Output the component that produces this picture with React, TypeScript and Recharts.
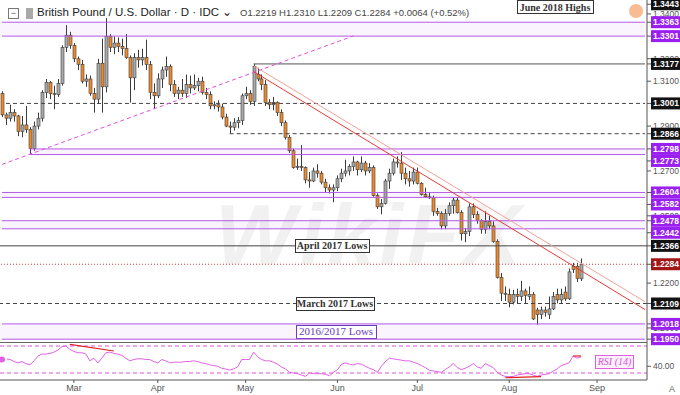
import {
  ComposedChart,
  Bar,
  Line,
  XAxis,
  YAxis,
  ReferenceLine,
  ReferenceArea,
} from "recharts";

const SANS = "'Liberation Sans', Arial, sans-serif";
const SERIF = "'Liberation Serif', 'Times New Roman', serif";

// trading days (Mon-Fri) from 5 Feb 2019; the last ones are empty room on the right
function weekdays(start: string, count: number) {
  const out: string[] = [];
  const d = new Date(start + "T00:00:00Z");
  while (out.length < count) {
    const wd = d.getUTCDay();
    if (wd !== 0 && wd !== 6) out.push(d.toISOString().slice(0, 10));
    d.setUTCDate(d.getUTCDate() + 1);
  }
  return out;
}
const dates = weekdays("2019-02-05", 162);

const monthTicks = ["2019-03-01", "2019-04-01", "2019-05-01", "2019-06-03", "2019-07-01", "2019-08-01", "2019-09-02"];
const monthLabels = ["Mar", "Apr", "May", "Jun", "Jul", "Aug", "Sep"];

// GBP/USD daily candles, Feb 5 - Aug 27
const opens = [
  1.3045, 1.2950, 1.2935, 1.2960, 1.2945, 1.2875, 1.2905, 1.2885, 1.2800, 1.2900,
  1.2935, 1.3050, 1.3095, 1.3045, 1.3040, 1.3090, 1.3250, 1.3305,
  1.3260, 1.3200, 1.3175, 1.3100, 1.3110, 1.3045, 1.3020, 1.3180, 1.3075, 1.3300,
  1.3250, 1.3270, 1.3255, 1.3245, 1.3205, 1.3115, 1.3205, 1.3195, 1.3205, 1.3175, 1.3050,
  1.3035, 1.3110, 1.3150, 1.3165, 1.3085, 1.3045, 1.3060, 1.3045, 1.3085, 1.3070, 1.3080,
  1.3100, 1.3050, 1.3040, 1.2990, 1.2995, 1.2985, 1.2940, 1.2900, 1.2895, 1.2915, 1.2925,
  1.3035, 1.3045, 1.3010, 1.3130, 1.3110, 1.3085, 1.3005, 1.2995, 1.3005, 1.2960, 1.2915,
  1.2850, 1.2790, 1.2715, 1.2720, 1.2715, 1.2660, 1.2655, 1.2700, 1.2690, 1.2650, 1.2625, 1.2615,
  1.2625, 1.2665, 1.2690, 1.2700, 1.2720, 1.2740, 1.2705, 1.2735, 1.2700, 1.2715,
  1.2590, 1.2540, 1.2555, 1.2655, 1.2690, 1.2740, 1.2735, 1.2690, 1.2665, 1.2655,
  1.2695, 1.2645, 1.2595, 1.2585, 1.2580, 1.2520, 1.2510, 1.2455, 1.2510, 1.2545, 1.2570,
  1.2515, 1.2420, 1.2430, 1.2540, 1.2505, 1.2480, 1.2440, 1.2475, 1.2455, 1.2385, 1.2225, 1.2155,
  1.2150, 1.2115, 1.2150, 1.2140, 1.2165, 1.2140, 1.2150, 1.2080, 1.2060, 1.2080,
  1.2060, 1.2085, 1.2150, 1.2125, 1.2160, 1.2130, 1.2275, 1.2275, 1.2219,
];
const highs = [
  1.3055, 1.2960, 1.2995, 1.2975, 1.2950, 1.2945, 1.2990, 1.2895, 1.2920, 1.2960,
  1.3060, 1.3110, 1.3100, 1.3080, 1.3110, 1.3260, 1.3350, 1.3320,
  1.3270, 1.3210, 1.3195, 1.3130, 1.3125, 1.3070, 1.3200, 1.3290, 1.3381, 1.3310,
  1.3300, 1.3295, 1.3290, 1.3310, 1.3215, 1.3225, 1.3240, 1.3245, 1.3285, 1.3190, 1.3090,
  1.3135, 1.3165, 1.3210, 1.3175, 1.3105, 1.3075, 1.3110, 1.3130, 1.3125, 1.3130, 1.3115,
  1.3120, 1.3070, 1.3055, 1.3010, 1.3015, 1.3000, 1.2955, 1.2920, 1.2935, 1.2940, 1.3045,
  1.3075, 1.3060, 1.3177, 1.3160, 1.3130, 1.3105, 1.3020, 1.3030, 1.3010, 1.2975, 1.2925,
  1.2860, 1.2800, 1.2755, 1.2815, 1.2720, 1.2695, 1.2715, 1.2730, 1.2700, 1.2665, 1.2640, 1.2640,
  1.2680, 1.2710, 1.2750, 1.2730, 1.2765, 1.2745, 1.2765, 1.2745, 1.2735, 1.2725,
  1.2600, 1.2575, 1.2665, 1.2710, 1.2755, 1.2765, 1.2784, 1.2715, 1.2700, 1.2715,
  1.2715, 1.2650, 1.2625, 1.2605, 1.2590, 1.2535, 1.2520, 1.2530, 1.2560, 1.2580, 1.2580,
  1.2525, 1.2445, 1.2555, 1.2555, 1.2520, 1.2485, 1.2520, 1.2500, 1.2475, 1.2395, 1.2245, 1.2185,
  1.2175, 1.2170, 1.2175, 1.2210, 1.2175, 1.2185, 1.2160, 1.2090, 1.2095, 1.2095,
  1.2140, 1.2160, 1.2175, 1.2175, 1.2185, 1.2265, 1.2290, 1.2290, 1.2310,
];
const lows = [
  1.2940, 1.2905, 1.2920, 1.2920, 1.2855, 1.2850, 1.2870, 1.2773, 1.2790, 1.2885,
  1.2920, 1.3025, 1.3020, 1.2975, 1.3030, 1.3080, 1.3230, 1.3245,
  1.3185, 1.3150, 1.3090, 1.3075, 1.3035, 1.2960, 1.3000, 1.2960, 1.3050, 1.3230,
  1.3220, 1.3230, 1.3215, 1.3200, 1.3005, 1.3060, 1.3160, 1.3170, 1.3150, 1.3020, 1.2977,
  1.3025, 1.3070, 1.3120, 1.3055, 1.3030, 1.3020, 1.3030, 1.3025, 1.3045, 1.3060, 1.3055,
  1.3040, 1.3020, 1.2975, 1.2975, 1.2965, 1.2930, 1.2895, 1.2866, 1.2880, 1.2890, 1.2905,
  1.3020, 1.2995, 1.2990, 1.3100, 1.3060, 1.2990, 1.2975, 1.2970, 1.2945, 1.2900, 1.2840,
  1.2780, 1.2710, 1.2705, 1.2700, 1.2645, 1.2625, 1.2650, 1.2670, 1.2640, 1.2605, 1.2600, 1.2560,
  1.2610, 1.2650, 1.2675, 1.2680, 1.2700, 1.2680, 1.2695, 1.2680, 1.2690, 1.2585,
  1.2530, 1.2506, 1.2550, 1.2620, 1.2680, 1.2715, 1.2660, 1.2640, 1.2630, 1.2640,
  1.2640, 1.2590, 1.2580, 1.2575, 1.2500, 1.2500, 1.2440, 1.2440, 1.2500, 1.2510, 1.2510,
  1.2390, 1.2382, 1.2410, 1.2490, 1.2465, 1.2420, 1.2420, 1.2440, 1.2380, 1.2220, 1.2120, 1.2120,
  1.2092, 1.2105, 1.2110, 1.2120, 1.2110, 1.2125, 1.2035, 1.2015, 1.2040, 1.2050,
  1.2040, 1.2080, 1.2110, 1.2110, 1.2120, 1.2125, 1.2245, 1.2205, 1.2209,
];
const closes = [
  1.2950, 1.2935, 1.2960, 1.2945, 1.2875, 1.2905, 1.2885, 1.2800, 1.2900, 1.2935,
  1.3050, 1.3095, 1.3045, 1.3040, 1.3090, 1.3250, 1.3305, 1.3260,
  1.3200, 1.3175, 1.3100, 1.3110, 1.3045, 1.3020, 1.3180, 1.3075, 1.3300, 1.3250,
  1.3270, 1.3255, 1.3245, 1.3205, 1.3115, 1.3205, 1.3195, 1.3205, 1.3175, 1.3050, 1.3035,
  1.3110, 1.3150, 1.3165, 1.3085, 1.3045, 1.3060, 1.3045, 1.3085, 1.3070, 1.3080, 1.3100,
  1.3050, 1.3040, 1.2990, 1.2995, 1.2985, 1.2940, 1.2900, 1.2895, 1.2915, 1.2925, 1.3035,
  1.3045, 1.3010, 1.3165, 1.3110, 1.3085, 1.3005, 1.2995, 1.3005, 1.2960, 1.2915, 1.2850,
  1.2790, 1.2715, 1.2720, 1.2715, 1.2660, 1.2655, 1.2700, 1.2690, 1.2650, 1.2625, 1.2615, 1.2625,
  1.2665, 1.2690, 1.2700, 1.2720, 1.2740, 1.2705, 1.2735, 1.2700, 1.2715, 1.2590,
  1.2540, 1.2555, 1.2655, 1.2690, 1.2740, 1.2735, 1.2690, 1.2665, 1.2655, 1.2695,
  1.2645, 1.2595, 1.2585, 1.2580, 1.2520, 1.2510, 1.2455, 1.2510, 1.2545, 1.2570, 1.2515,
  1.2420, 1.2430, 1.2540, 1.2505, 1.2480, 1.2440, 1.2475, 1.2455, 1.2385, 1.2225, 1.2155, 1.2150,
  1.2115, 1.2150, 1.2140, 1.2165, 1.2145, 1.2150, 1.2040, 1.2060, 1.2080, 1.2070,
  1.2085, 1.2140, 1.2125, 1.2150, 1.2130, 1.2250, 1.2260, 1.2220, 1.2284,
];

// RSI (14)
const rsi = [
  50, 51, 50, 47, 45, 47, 44, 42, 48, 55,
  58, 58, 59, 61, 64, 69, 70, 65, 62, 60,
  60, 58, 48, 52, 45, 52, 60, 61, 59, 58,
  56, 52, 48, 50, 51, 51, 50, 50, 47, 45,
  50, 48, 45, 46, 46, 46, 47, 47, 48, 47,
  45, 44, 42, 41, 40, 37, 36, 34.5, 36, 39,
  50, 50, 50, 61, 54, 50, 48, 48, 46, 43,
  39, 36, 31, 30, 29, 27, 25, 30, 29, 29,
  29, 28, 26, 31, 35, 43, 45, 43, 42, 44,
  43, 40, 37, 35, 31, 40, 47, 52, 51, 50,
  49, 48, 48, 46, 44, 41, 38, 34, 33, 32,
  31, 35, 39, 44, 38, 35, 37, 40, 44, 39,
  37, 44, 41, 38, 31, 27, 25, 24.5, 25, 27,
  28, 29, 29, 27, 25, 27, 28, 29, 33, 36,
  41, 43, 45, 55, 52, 54,
];

// horizontal zones (low, high) and the bar index where each starts
const purpleBands = [
  [1.3301, 1.3363],
  [1.2773, 1.2798],
  [1.2582, 1.2604],
  [1.2442, 1.2478],
  [1.1950, 1.2018],
];
const bandStarts = [0, 7, 0, 0, 0];
const blackLevels = [1.3443, 1.3177, 1.3001, 1.2866, 1.2366, 1.2109];
const lastPrice = 1.2284;
// plain axis ticks that still peek out from behind the level tags
const plainTicks = [1.20, 1.22, 1.25, 1.27, 1.29, 1.31, 1.32, 1.34];

// drawn trendlines: [bar index, price]
const trendLines = [
  { from: [0, 1.2729], to: [88, 1.3302], stroke: "#e04fe0", dash: "4 3" },
  { from: [63, 1.3169], to: [161, 1.2117], stroke: "#f3a19b", dash: undefined },
  { from: [63, 1.3143], to: [161, 1.2082], stroke: "#e53935", dash: undefined },
];
const rsiLines = [
  { from: [17, 72.5], to: [28, 62.6] },
  { from: [126, 23], to: [135, 24.5] },
  { from: [143, 55.2], to: [145, 55.2] },
];

const rows = dates.map((date, i) => ({
  date,
  o: opens[i],
  h: highs[i],
  l: lows[i],
  c: closes[i],
  range: i < opens.length ? [lows[i], highs[i]] : null,
  rsi: rsi[i],
}));

const PURPLE = "#9b20f0";
const BAND_LINE = "#b35ae6";
const PLOT_RIGHT = 647;
const PRICE_DOMAIN = [1.1768, 1.3462];
const PLOT_H = 380;
const PX_PER_PRICE = PLOT_H / (PRICE_DOMAIN[1] - PRICE_DOMAIN[0]);
const TAG_H = 12;

// eslint-disable-next-line @typescript-eslint/no-explicit-any
const Candle = (props: any) => {
  const { x, y, width, height, payload } = props;
  if (!payload || payload.o == null) return null;
  const { o, h, l, c } = payload;
  const top = Math.min(y, y + height);
  const bottom = Math.max(y, y + height);
  const k = (bottom - top) / (h - l || 1);
  const py = (v: number) => top + (h - v) * k;
  const cx = Math.round(x + width / 2) + 0.5;
  const y1 = py(Math.max(o, c));
  const y2 = py(Math.min(o, c));
  return (
    <g>
      <line x1={cx} x2={cx} y1={top} y2={bottom} stroke="#3c3c3c" strokeWidth={1} />
      <rect
        x={cx - 1.5}
        y={y1}
        width={3}
        height={Math.max(1, y2 - y1)}
        fill={c >= o ? "#aaaaaa" : "#f0892a"}
        stroke="#3c3c3c"
        strokeWidth={0.6}
      />
    </g>
  );
};

// eslint-disable-next-line @typescript-eslint/no-explicit-any
const PriceTick = (props: any) => {
  const { y, payload } = props;
  const v = payload.value;
  const band = purpleBands.find((b) => b[0] === v || b[1] === v);
  const bg = band ? PURPLE : blackLevels.includes(v) ? "#121212" : v === lastPrice ? "#a31616" : null;
  const text = v.toFixed(4);
  if (!bg) {
    return (
      <g>
        <line x1={PLOT_RIGHT} x2={PLOT_RIGHT + 4} y1={y} y2={y} stroke="#555" />
        <text x={PLOT_RIGHT + 6} y={y + 3} fontSize={8.5} fill="#555" fontFamily={SANS}>
          {text}
        </text>
      </g>
    );
  }
  // a lower band tag is pushed down when it would sit on its upper partner
  let ty = y;
  if (band && band[0] === v) {
    const upperY = y - (band[1] - band[0]) * PX_PER_PRICE;
    if (y - upperY < TAG_H) ty = upperY + TAG_H;
  }
  return (
    <g>
      <line x1={PLOT_RIGHT} x2={PLOT_RIGHT + 4} y1={ty} y2={ty} stroke="#555" />
      <rect x={PLOT_RIGHT + 4} y={ty - TAG_H / 2} width={29} height={TAG_H} fill={bg} />
      <text x={PLOT_RIGHT + 6} y={ty + 3} fontSize={8.5} fill="#fff" fontFamily={SANS} fontWeight="bold">
        {text}
      </text>
    </g>
  );
};

const tag =
  (text: string, left: number, width: number, opts: { dy?: number; color?: string; bold?: boolean; size?: number } = {}) =>
  // eslint-disable-next-line @typescript-eslint/no-explicit-any
  (p: any) => {
    const vb = p.viewBox || { x: 0, y: 0, width: 0, height: 0 };
    const cy = vb.y + (vb.height || 0) / 2 + (opts.dy || 0);
    const x0 = vb.x + left;
    const color = opts.color || "#333";
    return (
      <g>
        <rect x={x0 + 0.5} y={Math.round(cy - 7) + 0.5} width={width} height={13} fill="#fff" stroke={color} />
        <text
          x={x0 + width / 2}
          y={cy + 3.5}
          textAnchor="middle"
          fontFamily={SERIF}
          fontSize={opts.size || 10}
          fontWeight={opts.bold === false ? "normal" : "bold"}
          fill={color}
        >
          {text}
        </text>
      </g>
    );
  };

// eslint-disable-next-line @typescript-eslint/no-explicit-any
const rsiTickLabel = (p: any) => {
  const vb = p.viewBox;
  return (
    <g>
      <line x1={PLOT_RIGHT} x2={PLOT_RIGHT + 4} y1={vb.y} y2={vb.y} stroke="#555" />
      <text x={PLOT_RIGHT + 6} y={vb.y + 3} fontSize={8.5} fill="#555" fontFamily={SANS}>
        40.00
      </text>
    </g>
  );
};

const last = dates.length - 1;

export default function App() {
  return (
    <div
      style={{
        position: "absolute",
        left: 0,
        top: 0,
        width: 680,
        height: 395,
        background: "#fff",
        overflow: "hidden",
        fontFamily: SANS,
      }}
    >
      {/* watermark */}
      <div
        style={{
          position: "absolute",
          left: 215,
          top: 185,
          fontSize: 86,
          fontWeight: "bold",
          fontStyle: "italic",
          color: "rgba(0,0,0,0.055)",
          letterSpacing: 4,
        }}
      >
        WikiFX
      </div>

      <div style={{ position: "absolute", left: 0, top: 0 }}>
        <ComposedChart width={680} height={395} data={rows} margin={{ top: 0, right: 0, bottom: 0, left: 0 }}>
          <XAxis
            dataKey="date"
            height={15}
            ticks={monthTicks}
            interval={0}
            tickFormatter={(d: string) => monthLabels[monthTicks.indexOf(d)]}
            tick={{ fontSize: 9, fill: "#555", fontFamily: SANS }}
            tickSize={3}
            tickLine={{ stroke: "#555" }}
            axisLine={{ stroke: "#555" }}
          />
          <YAxis
            yAxisId="price"
            orientation="right"
            width={33}
            domain={PRICE_DOMAIN}
            allowDataOverflow
            ticks={[...plainTicks, ...purpleBands.flat(), ...blackLevels, lastPrice]}
            interval={0}
            tick={PriceTick}
            tickLine={false}
            axisLine={{ stroke: "#555" }}
          />
          <YAxis yAxisId="rsi" hide domain={[19.63, 582.6]} allowDataOverflow />

          {purpleBands.map((b, i) => (
            <ReferenceArea
              key={`band${i}`}
              yAxisId="price"
              y1={b[0]}
              y2={b[1]}
              x1={bandStarts[i] ? dates[bandStarts[i]] : undefined}
              x2={bandStarts[i] ? dates[last] : undefined}
              fill="rgba(175,95,240,0.13)"
              stroke="none"
              ifOverflow="visible"
              label={i === 4 ? tag("2016/2017 Lows", 296, 80, { color: "#6a3cc0", bold: false, size: 11 }) : undefined}
            />
          ))}
          {purpleBands.flatMap((b, i) =>
            b.map((v, j) => (
              <ReferenceLine
                key={`edge${i}-${j}`}
                yAxisId="price"
                segment={[
                  { x: dates[bandStarts[i]], y: v },
                  { x: dates[last], y: v },
                ]}
                stroke={BAND_LINE}
                strokeWidth={1}
                ifOverflow="visible"
              />
            ))
          )}

          <ReferenceLine
            yAxisId="price"
            y={1.3443}
            stroke="none"
            label={tag("June 2018 Highs", 517, 76, { dy: 3 })}
          />
          <ReferenceLine
            yAxisId="price"
            segment={[
              { x: dates[63], y: 1.3177 },
              { x: dates[last], y: 1.3177 },
            ]}
            stroke="#555"
          />
          <ReferenceLine
            yAxisId="price"
            segment={[
              { x: dates[1], y: 1.3001 },
              { x: dates[last], y: 1.3001 },
            ]}
            stroke="#444"
            strokeDasharray="4 3"
          />
          <ReferenceLine
            yAxisId="price"
            segment={[
              { x: dates[57], y: 1.2866 },
              { x: dates[last], y: 1.2866 },
            ]}
            stroke="#444"
            strokeDasharray="4 3"
          />
          <ReferenceLine
            yAxisId="price"
            y={1.2366}
            stroke="#444"
            label={tag("April 2017 Lows", 295, 74)}
          />
          <ReferenceLine yAxisId="price" y={lastPrice} stroke="#d63a3a" strokeDasharray="1 2" />
          <ReferenceLine
            yAxisId="price"
            y={1.2109}
            stroke="#444"
            strokeDasharray="4 3"
            label={tag("March 2017 Lows", 296, 78)}
          />

          {trendLines.map((t, i) => (
            <ReferenceLine
              key={`trend${i}`}
              yAxisId="price"
              segment={[
                { x: dates[t.from[0]], y: t.from[1] },
                { x: dates[t.to[0]], y: t.to[1] },
              ]}
              stroke={t.stroke}
              strokeDasharray={t.dash}
              strokeWidth={1}
              ifOverflow="visible"
            />
          ))}

          <Bar yAxisId="price" dataKey="range" shape={Candle} isAnimationActive={false} />

          <ReferenceLine yAxisId="rsi" y={70} stroke="#dd55dd" strokeDasharray="4 3" />
          <ReferenceLine yAxisId="rsi" y={30} stroke="#dd55dd" strokeDasharray="4 3" />
          <ReferenceLine yAxisId="rsi" y={40} stroke="none" label={rsiTickLabel} />
          <Line
            yAxisId="rsi"
            dataKey="rsi"
            stroke="#e160e4"
            strokeWidth={1}
            dot={false}
            isAnimationActive={false}
          />
          {rsiLines.map((t, i) => (
            <ReferenceLine
              key={`rsitrend${i}`}
              yAxisId="rsi"
              segment={[
                { x: dates[t.from[0]], y: t.from[1] },
                { x: dates[t.to[0]], y: t.to[1] },
              ]}
              stroke="#e02020"
              strokeWidth={1.2}
            />
          ))}
        </ComposedChart>
      </div>

      {/* pane separator */}
      <div style={{ position: "absolute", left: 0, top: 342, width: PLOT_RIGHT, height: 1, background: "#666" }} />

      {/* header */}
      <div
        style={{
          position: "absolute",
          left: 8,
          top: 8,
          width: 9,
          height: 9,
          border: "1px solid #777",
          fontSize: 9,
          lineHeight: "8px",
          textAlign: "center",
          color: "#555",
        }}
      >
        −
      </div>
      <div style={{ position: "absolute", left: 26, top: 8, width: 7, height: 11, background: "#a8a8a8" }} />
      <div style={{ position: "absolute", left: 37, top: 5, fontSize: 11.5, color: "#222", whiteSpace: "nowrap" }}>
        British Pound / U.S. Dollar · D · IDC ⌄
      </div>
      <div style={{ position: "absolute", left: 240, top: 7, fontSize: 9.5, color: "#444", whiteSpace: "nowrap" }}>
        O1.2219 H1.2310 L1.2209 C1.2284 +0.0064 (+0.52%)
      </div>
      <div
        style={{
          position: "absolute",
          left: 629,
          top: 4,
          width: 14,
          height: 14,
          borderRadius: 7,
          background: "#f8bb93",
        }}
      />

      {/* RSI legend */}
      <div
        style={{
          position: "absolute",
          left: 595,
          top: 355,
          width: 37,
          height: 12,
          border: "1px solid #e060e0",
          background: "#fdf1fd",
          color: "#d94fd9",
          fontFamily: SERIF,
          fontStyle: "italic",
          fontSize: 10,
          lineHeight: "12px",
          textAlign: "center",
        }}
      >
        RSI (14)
      </div>
      <div style={{ position: "absolute", left: 669, top: 384, fontSize: 9, color: "#666" }}>A</div>
    </div>
  );
}
